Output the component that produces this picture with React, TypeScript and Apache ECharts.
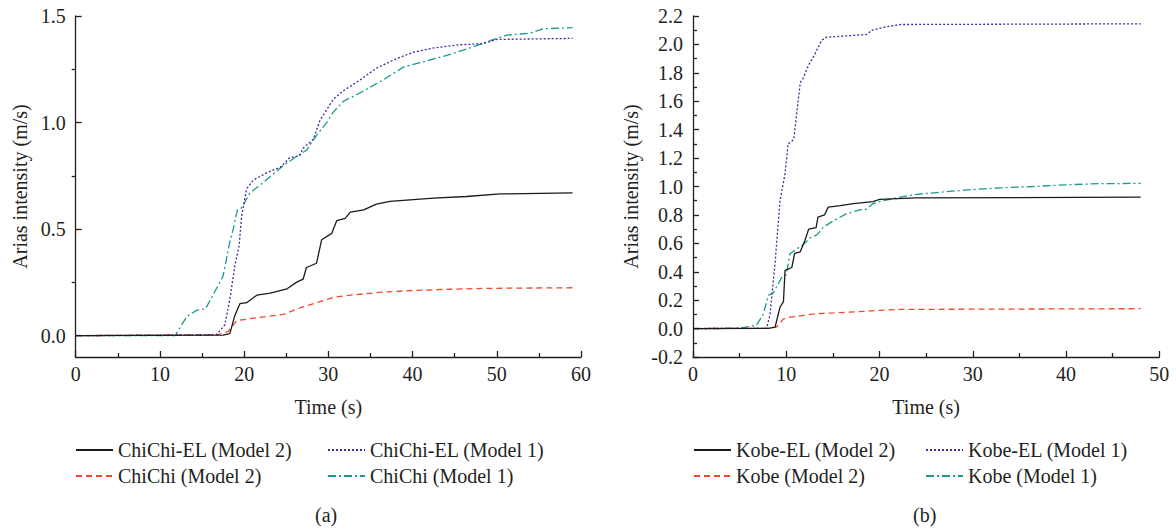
import React, { useEffect, useRef } from "react";
import * as echarts from "echarts";

const FONT = "'Liberation Serif', 'DejaVu Serif', serif";
const TEXT = "#231f20";
const FS = 20;

// ---- Panel (a): ChiChi, time (s) vs Arias intensity (m/s)
const chichiEL2: number[][] = [
  [0, 0], [17.5, 0.003], [18.3, 0.01], [18.9, 0.095], [19.5, 0.15], [20.3, 0.155], [21.5, 0.19],
  [23.1, 0.2], [25.1, 0.22], [26.2, 0.25], [27, 0.265], [27.4, 0.32], [28.6, 0.34], [29.2, 0.45],
  [30.4, 0.48], [31, 0.54], [32, 0.55], [32.6, 0.58], [34.2, 0.59], [35.7, 0.617], [37.3, 0.63],
  [40.5, 0.64], [42.5, 0.645], [46.4, 0.653], [50.4, 0.665], [59, 0.67],
];
const chichiEL1: number[][] = [
  [0, 0], [16.7, 0.005], [17.7, 0.05], [18.3, 0.17], [18.9, 0.33], [19.4, 0.42], [19.7, 0.56],
  [20.3, 0.69], [21.1, 0.73], [22.7, 0.765], [24.3, 0.79], [25.4, 0.835], [26.6, 0.845], [27, 0.88],
  [28.2, 0.92], [29, 1.01], [29.8, 1.06], [30.6, 1.11], [31.8, 1.15], [33.4, 1.19], [35.7, 1.255],
  [38.1, 1.3], [40.1, 1.33], [42.5, 1.35], [45.6, 1.365], [48.4, 1.37], [50, 1.39], [59, 1.395],
];
const chichi2: number[][] = [
  [0, 0], [16.9, 0.005], [18.1, 0.02], [18.7, 0.05], [19.1, 0.07], [20.7, 0.08], [22.7, 0.09],
  [24.7, 0.1], [26.6, 0.13], [28.6, 0.155], [30.6, 0.18], [32.6, 0.19], [36.5, 0.205], [40.5, 0.213],
  [44.5, 0.218], [48.4, 0.222], [59, 0.225],
];
const chichi1: number[][] = [
  [0, 0], [11.8, 0], [13.2, 0.09], [14.4, 0.12], [15.4, 0.125], [16.7, 0.22], [17.5, 0.28],
  [18.3, 0.44], [18.7, 0.5], [19.2, 0.59], [19.7, 0.6], [20.7, 0.67], [22.3, 0.72], [24.7, 0.8],
  [26.2, 0.84], [27.4, 0.87], [28.6, 0.94], [29.8, 1.0], [30.6, 1.05], [31.8, 1.1], [33.8, 1.14],
  [36.5, 1.2], [38.9, 1.26], [41.7, 1.29], [44.5, 1.32], [46.8, 1.35], [49.2, 1.385], [51.2, 1.41],
  [54, 1.42], [55.5, 1.44], [59, 1.445],
];

// ---- Panel (b): Kobe
const kobeEL2: number[][] = [
  [0, 0], [8.1, 0.002], [8.8, 0.01], [9.33, 0.15], [9.7, 0.19], [9.87, 0.41], [10.6, 0.43],
  [10.9, 0.53], [11.5, 0.54], [12, 0.62], [12.4, 0.7], [13.2, 0.71], [13.4, 0.785], [14.1, 0.8],
  [14.5, 0.855], [15.8, 0.865], [17.2, 0.88], [19.3, 0.893], [20, 0.91], [23.8, 0.92], [48, 0.925],
];
const kobeEL1: number[][] = [
  [0, 0], [7.9, 0.002], [8.26, 0.1], [8.8, 0.46], [9.33, 0.9], [9.87, 1.09], [10.2, 1.3],
  [10.8, 1.33], [11.5, 1.73], [11.8, 1.76], [12.4, 1.855], [12.9, 1.91], [13.8, 2.03], [14.3, 2.05],
  [18.6, 2.07], [19.2, 2.1], [20.4, 2.12], [22.2, 2.14], [48, 2.145],
];
const kobe2: number[][] = [
  [0, 0], [7.9, 0.002], [8.95, 0.01], [9.7, 0.068], [10.4, 0.08], [11.5, 0.09], [13.3, 0.105],
  [15.1, 0.11], [18.6, 0.122], [20.4, 0.13], [22.2, 0.135], [48, 0.14],
];
const kobe1: number[][] = [
  [0, 0], [5.0, 0.003], [6.8, 0.024], [7.5, 0.095], [8.1, 0.236], [8.6, 0.25], [9.1, 0.31],
  [9.5, 0.36], [10.0, 0.38], [10.4, 0.527], [11.1, 0.56], [11.8, 0.59], [12.6, 0.64], [13.3, 0.66],
  [14.0, 0.715], [15.1, 0.76], [16.5, 0.81], [17.9, 0.835], [18.6, 0.84], [19.3, 0.88], [20.4, 0.9],
  [22.2, 0.925], [24, 0.945], [26.5, 0.96], [29.4, 0.976], [32.9, 0.99], [36.5, 1.0], [40, 1.012],
  [43.6, 1.02], [48, 1.022],
];

const leftNames = ["ChiChi-EL (Model 2)", "ChiChi-EL (Model 1)", "ChiChi (Model 2)", "ChiChi (Model 1)"];
const rightNames = ["Kobe-EL (Model 2)", "Kobe-EL (Model 1)", "Kobe (Model 2)", "Kobe (Model 1)"];
const leftYLabels = [0, 0.5, 1.0, 1.5];
const leftYMinor = [0.25, 0.75, 1.25];

const styles = [
  { color: "#1a1a1a", type: "solid" as any },
  { color: "#3a2ca0", type: [2, 2] as any },
  { color: "#f5452a", type: [6, 4] as any },
  { color: "#1a9a8f", type: [8, 3, 2, 3] as any },
];

const axisLineStyle = { color: TEXT, width: 1.3 };
const labelStyle = { fontFamily: FONT, fontSize: FS, color: TEXT };

function xAxis(gridIndex: number, max: number) {
  return {
    type: "value",
    gridIndex,
    min: 0,
    max,
    interval: 10,
    axisLine: { show: true, onZero: false, lineStyle: axisLineStyle },
    axisTick: { show: true, inside: true, length: 6, lineStyle: axisLineStyle },
    minorTick: { show: true, splitNumber: 2, length: 4, lineStyle: axisLineStyle },
    splitLine: { show: false },
    axisLabel: { ...labelStyle, margin: 7 },
    name: "Time (s)",
    nameLocation: "middle",
    nameGap: 40,
    nameTextStyle: { ...labelStyle },
  };
}

export default function App() {
  const ref = useRef<HTMLDivElement>(null);
  useEffect(() => {
    const chart = echarts.init(ref.current!, null, { renderer: "svg" });
    const series: any[] = [];
    const leftData = [chichiEL2, chichiEL1, chichi2, chichi1];
    const rightData = [kobeEL2, kobeEL1, kobe2, kobe1];
    leftData.forEach((d, i) =>
      series.push({
        type: "line",
        name: leftNames[i],
        xAxisIndex: 0,
        yAxisIndex: 0,
        data: d,
        symbol: "none",
        showSymbol: false,
        lineStyle: { color: styles[i].color, type: styles[i].type, width: 1.3 },
        itemStyle: { color: styles[i].color },
        z: 10 - i,
      })
    );
    rightData.forEach((d, i) =>
      series.push({
        type: "line",
        name: rightNames[i],
        xAxisIndex: 1,
        yAxisIndex: 2,
        data: d,
        symbol: "none",
        showSymbol: false,
        lineStyle: { color: styles[i].color, type: styles[i].type, width: 1.3 },
        itemStyle: { color: styles[i].color },
        z: 10 - i,
      })
    );
    const legPos = [
      [75, 440], [327, 440], [75, 466], [327, 466],
    ];
    const legPosR = [
      [693, 440], [925, 440], [693, 466], [925, 466],
    ];
    const legends: any[] = [];
    const makeLegend = (n: string, p: number[]) => ({
      data: [n],
      left: p[0],
      top: p[1],
      padding: 0,
      itemWidth: 37,
      itemHeight: 14,
      itemGap: 0,
      itemStyle: { color: "transparent", borderWidth: 0, opacity: 0 },
      textStyle: { ...labelStyle, lineHeight: 20 },
      selectedMode: false,
    });
    leftNames.forEach((n, i) => legends.push(makeLegend(n, legPos[i])));
    rightNames.forEach((n, i) => legends.push(makeLegend(n, legPosR[i])));

    const option: any = {
      animation: false,
      backgroundColor: "#ffffff",
      textStyle: { fontFamily: FONT },
      grid: [
        { left: 75.7, top: 16, width: 505.3, height: 341 },
        { left: 693, top: 16, width: 466.3, height: 341 },
      ],
      xAxis: [xAxis(0, 60), xAxis(1, 50)],
      yAxis: [
        {
          type: "value",
          gridIndex: 0,
          min: -0.1,
          max: 1.5,
          axisLine: { show: true, onZero: false, lineStyle: axisLineStyle },
          axisTick: { show: true, inside: true, length: 6, lineStyle: axisLineStyle, customValues: leftYLabels },
          axisLabel: {
            ...labelStyle,
            margin: 10,
            customValues: leftYLabels,
            formatter: (v: number) => v.toFixed(1),
          },
          splitLine: { show: false },
          name: "Arias intensity (m/s)",
          nameLocation: "middle",
          nameGap: 46,
          nameTextStyle: { ...labelStyle },
        },
        {
          type: "value",
          gridIndex: 0,
          min: -0.1,
          max: 1.5,
          axisLine: { show: false },
          axisTick: { show: true, inside: true, length: 4, lineStyle: axisLineStyle, customValues: leftYMinor },
          axisLabel: { show: false, customValues: leftYMinor },
          splitLine: { show: false },
        },
        {
          type: "value",
          gridIndex: 1,
          min: -0.2,
          max: 2.2,
          interval: 0.2,
          axisLine: { show: true, onZero: false, lineStyle: axisLineStyle },
          axisTick: { show: true, inside: true, length: 6, lineStyle: axisLineStyle },
          minorTick: { show: true, splitNumber: 2, length: 4, lineStyle: axisLineStyle },
          axisLabel: {
            ...labelStyle,
            margin: 10,
            formatter: (v: number) => v.toFixed(1),
          },
          splitLine: { show: false },
          name: "Arias intensity (m/s)",
          nameLocation: "middle",
          nameGap: 52,
          nameTextStyle: { ...labelStyle },
        },
      ],
      legend: legends,
      graphic: [
        { type: "text", left: 315, top: 505, style: { text: "(a)", font: `${FS}px ${FONT}`, fill: TEXT } },
        { type: "text", left: 913, top: 505, style: { text: "(b)", font: `${FS}px ${FONT}`, fill: TEXT } },
      ],
      series,
    };
    chart.setOption(option);
    return () => chart.dispose();
  }, []);
  return (
    <div
      ref={ref}
      style={{ position: "fixed", left: 0, top: 0, width: 1176, height: 531, background: "#fff" }}
    />
  );
}
